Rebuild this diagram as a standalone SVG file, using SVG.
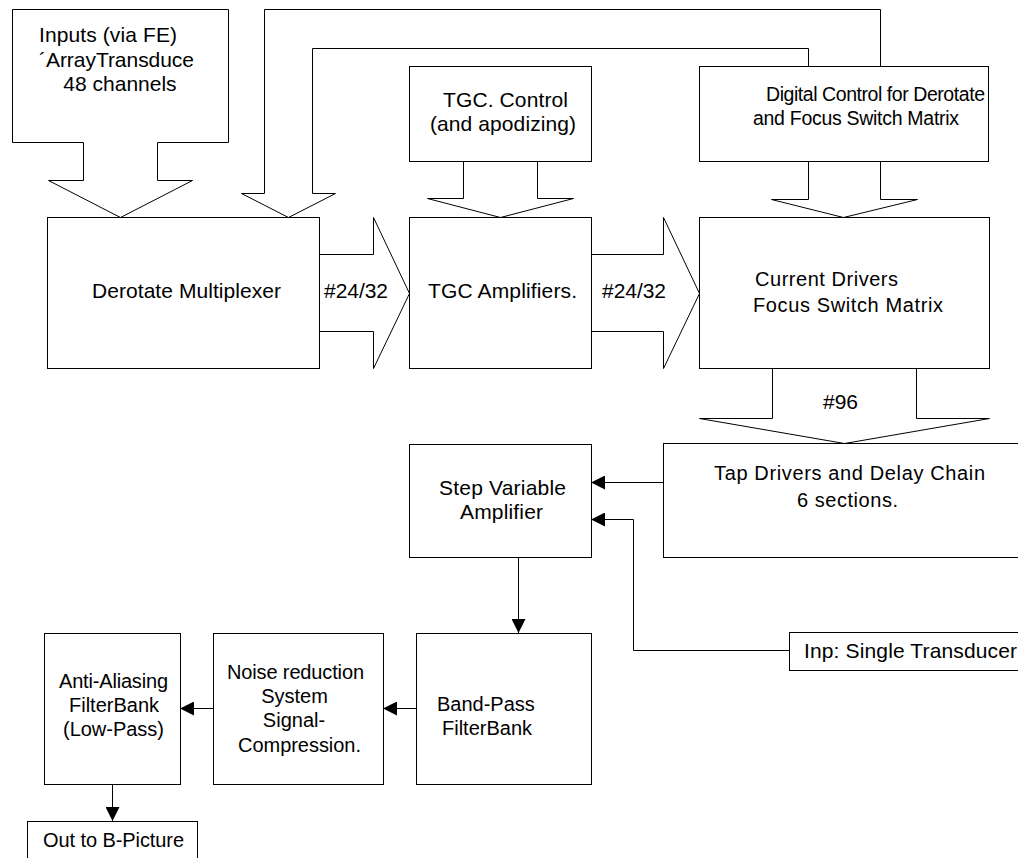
<svg xmlns="http://www.w3.org/2000/svg" width="1018" height="858" viewBox="0 0 1018 858">
<style>
.box{fill:#fff;stroke:#000;stroke-width:1}
.blk{fill:#fff;stroke:#000;stroke-width:1;stroke-linejoin:miter}
.ln{fill:none;stroke:#000;stroke-width:1}
text{font-family:"Liberation Sans",Arial,sans-serif;font-size:21px;fill:#000}
.s20{font-size:20px}
.s19{font-size:19.5px}
</style>
<defs>
<marker id="ah" viewBox="0 0 14 14" refX="14" refY="7" markerWidth="14" markerHeight="14" markerUnits="userSpaceOnUse" orient="auto">
<path d="M0,0 L14,7 L0,14 Z" fill="#000"/>
</marker>
</defs>
<rect width="1018" height="858" fill="#fff"/>
<g id="connectors">
<polyline class="blk" points="880.5,66.5 880.5,9.5 264.5,9.5 264.5,193.5 241.5,193.5 288.5,217.5 335.5,193.5 312.5,193.5 312.5,48.5 808.5,48.5 808.5,66.5"/>
<polyline class="blk" points="319.5,254.5 373.5,254.5 373.5,217.5 409.5,293.5 373.5,368.5 373.5,331.5 319.5,331.5"/>
<text x="324" y="298" textLength="64" lengthAdjust="spacing">#24/32</text>
<polyline class="blk" points="591.5,254.5 663.5,254.5 663.5,217.5 699.5,293.5 663.5,368.5 663.5,331.5 591.5,331.5"/>
<text x="602" y="298" textLength="64" lengthAdjust="spacing">#24/32</text>
<polyline class="blk" points="463.5,161.5 463.5,198.5 427.5,198.5 500.5,217.5 573.5,198.5 537.5,198.5 537.5,161.5"/>
<polyline class="blk" points="808.5,161.5 808.5,199.5 771.5,199.5 843.5,217.5 917.5,199.5 880.5,199.5 880.5,161.5"/>
<polyline class="blk" points="772.5,368.5 772.5,418.5 699.5,418.5 844.5,443.5 989.5,418.5 916.5,418.5 916.5,368.5"/>
<text x="823" y="409" textLength="35" lengthAdjust="spacing">#96</text>
<line class="ln" x1="663" y1="482.5" x2="591" y2="482.5" marker-end="url(#ah)"/>
<polyline class="ln" points="789,650.5 633.5,650.5 633.5,519.5 591,519.5" marker-end="url(#ah)"/>
<line class="ln" x1="518.5" y1="557" x2="518.5" y2="633" marker-end="url(#ah)"/>
<line class="ln" x1="416" y1="708.5" x2="383" y2="708.5" marker-end="url(#ah)"/>
<line class="ln" x1="213" y1="708.5" x2="180" y2="708.5" marker-end="url(#ah)"/>
<line class="ln" x1="112.5" y1="784" x2="112.5" y2="821" marker-end="url(#ah)"/>
</g>
<g id="inputs">
<polygon class="blk" points="12.5,9.5 228.5,9.5 228.5,142.5 157.5,142.5 157.5,180.5 192.5,180.5 120.5,217.5 48.5,180.5 83.5,180.5 83.5,142.5 12.5,142.5"/>
<text x="39" y="42" textLength="138" lengthAdjust="spacing">Inputs (via FE)</text>
<text x="39" y="67" textLength="155" lengthAdjust="spacing">´ArrayTransduce</text>
<text x="120" y="91" text-anchor="middle">48 channels</text>
</g>
<g id="derotate">
<rect class="box" x="47.5" y="217.5" width="272" height="151"/>
<text x="92" y="298" textLength="189" lengthAdjust="spacing">Derotate Multiplexer</text>
</g>
<g id="tgc-control">
<rect class="box" x="409.5" y="66.5" width="182" height="95"/>
<text x="443" y="107" textLength="125" lengthAdjust="spacing">TGC. Control</text>
<text x="430" y="131" textLength="146" lengthAdjust="spacing">(and apodizing)</text>
</g>
<g id="digital-control">
<rect class="box" x="699.5" y="66.5" width="289" height="95"/>
<text class="s19" x="766" y="101" textLength="219" lengthAdjust="spacing">Digital Control for Derotate</text>
<text class="s19" x="753" y="125" textLength="206" lengthAdjust="spacing">and Focus Switch Matrix</text>
</g>
<g id="tgc-amplifiers">
<rect class="box" x="409.5" y="217.5" width="182" height="151"/>
<text x="428" y="298" textLength="149" lengthAdjust="spacing">TGC Amplifiers.</text>
</g>
<g id="current-drivers">
<rect class="box" x="699.5" y="217.5" width="290" height="151"/>
<text class="s20" x="755" y="286" textLength="143" lengthAdjust="spacing">Current Drivers</text>
<text class="s20" x="753" y="312" textLength="190" lengthAdjust="spacing">Focus Switch Matrix</text>
</g>
<g id="tap-drivers">
<rect class="box" x="663.5" y="443.5" width="370" height="114"/>
<text class="s20" x="714" y="480" textLength="271" lengthAdjust="spacing">Tap Drivers and Delay Chain</text>
<text class="s20" x="797" y="507" textLength="101" lengthAdjust="spacing">6 sections.</text>
</g>
<g id="step-amp">
<rect class="box" x="409.5" y="444.5" width="182" height="113"/>
<text x="439" y="495" textLength="127" lengthAdjust="spacing">Step Variable</text>
<text x="460" y="519" textLength="83" lengthAdjust="spacing">Amplifier</text>
</g>
<g id="single-transducer">
<rect class="box" x="789.5" y="632.5" width="250" height="38"/>
<text x="804" y="658" textLength="213" lengthAdjust="spacing">Inp: Single Transducer</text>
</g>
<g id="band-pass">
<rect class="box" x="416.5" y="633.5" width="175" height="151"/>
<text class="s20" x="437" y="711">Band-Pass</text>
<text class="s20" x="442" y="735">FilterBank</text>
</g>
<g id="noise-reduction">
<rect class="box" x="213.5" y="633.5" width="170" height="151"/>
<text class="s20" x="227" y="679" textLength="137" lengthAdjust="spacing">Noise reduction</text>
<text class="s20" x="294.5" y="703" text-anchor="middle">System</text>
<text class="s20" x="294" y="727" text-anchor="middle">Signal-</text>
<text class="s20" x="238" y="752" textLength="123" lengthAdjust="spacing">Compression.</text>
</g>
<g id="anti-aliasing">
<rect class="box" x="44.5" y="633.5" width="136" height="151"/>
<text class="s20" x="59" y="688" textLength="109" lengthAdjust="spacing">Anti-Aliasing</text>
<text class="s20" x="69" y="712" textLength="90" lengthAdjust="spacing">FilterBank</text>
<text class="s20" x="63" y="736" textLength="101" lengthAdjust="spacing">(Low-Pass)</text>
</g>
<g id="out">
<rect class="box" x="27.5" y="821.5" width="170" height="60"/>
<text class="s20" x="43" y="847" textLength="141" lengthAdjust="spacing">Out to B-Picture</text>
</g>
</svg>
